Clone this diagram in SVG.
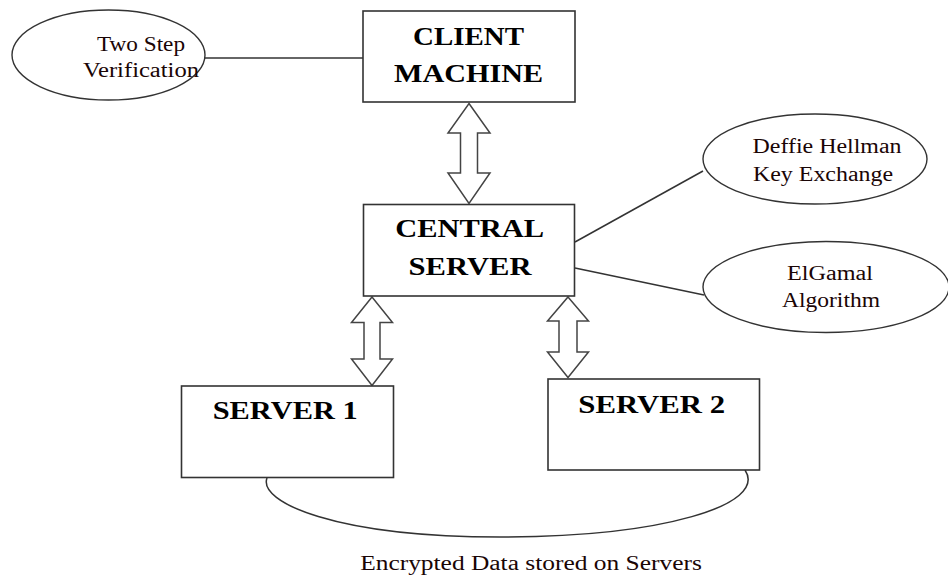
<svg xmlns="http://www.w3.org/2000/svg" width="948" height="576" viewBox="0 0 948 576">
  <style>
    .box { fill: #fff; stroke: #333; stroke-width: 1.6; }
    .oval { fill: #fff; stroke: #333; stroke-width: 1.4; }
    .link { fill: none; stroke: #333; stroke-width: 1.5; }
    .dbl { fill: #fff; stroke: #444; stroke-width: 1.5; stroke-linejoin: miter; }
    .title { font-family: 'Liberation Serif', 'DejaVu Serif', 'Times New Roman', serif; font-weight: bold; font-size: 26px; fill: #000; text-anchor: middle; }
    .label { font-family: 'Liberation Serif', 'DejaVu Serif', 'Times New Roman', serif; font-size: 20px; fill: #1a0505; text-anchor: middle; }
  </style>

  <rect width="948" height="576" fill="#fff"/>

  <!-- connectors -->
  <g id="connectors">
    <line class="link" x1="205" y1="58" x2="363" y2="58"/>
    <line class="link" x1="575" y1="242" x2="703" y2="171"/>
    <line class="link" x1="575" y1="268" x2="704" y2="295"/>
    <!-- client <-> central -->
    <polygon class="dbl" points="469,103.5 490,133 477.5,133 477.5,173 490,173 469,203.5 448,173 460.5,173 460.5,133 448,133"/>
    <!-- central <-> server 1 -->
    <polygon class="dbl" points="372,297 392.5,322.5 380,322.5 380,359 392.5,359 372,385.5 351.5,359 364,359 364,322.5 351.5,322.5"/>
    <!-- central <-> server 2 -->
    <polygon class="dbl" points="568,297 588.5,321 577,321 577,352 588.5,352 568,377.5 547.5,352 559,352 559,321 547.5,321"/>
    <!-- shared storage link between servers -->
    <path class="link" d="M267,478 C258,502 335,537 500,537 C662,537 768,505 745,470"/>
  </g>

  <g id="two-step">
    <ellipse class="oval" cx="108.5" cy="55" rx="96.5" ry="45"/>
    <text class="label" font-family="Liberation Serif, serif" x="141" y="50.5" textLength="88" lengthAdjust="spacingAndGlyphs">Two Step</text>
    <text class="label" font-family="Liberation Serif, serif" x="141" y="77" textLength="116" lengthAdjust="spacingAndGlyphs">Verification</text>
  </g>

  <g id="client-machine">
    <rect class="box" x="363" y="11" width="212" height="91"/>
    <text class="title" x="468.5" y="44.5" textLength="111" lengthAdjust="spacingAndGlyphs">CLIENT</text>
    <text class="title" x="468.5" y="81.5" textLength="149" lengthAdjust="spacingAndGlyphs">MACHINE</text>
  </g>

  <g id="central-server">
    <rect class="box" x="363.5" y="204.5" width="211" height="91.5"/>
    <text class="title" x="469.7" y="237.3" textLength="149" lengthAdjust="spacingAndGlyphs">CENTRAL</text>
    <text class="title" x="470" y="275" textLength="123" lengthAdjust="spacingAndGlyphs">SERVER</text>
  </g>

  <g id="diffie-hellman">
    <ellipse class="oval" cx="815" cy="159" rx="112" ry="45"/>
    <text class="label" x="827" y="153" textLength="149" lengthAdjust="spacingAndGlyphs">Deffie Hellman</text>
    <text class="label" x="823" y="181" textLength="140" lengthAdjust="spacingAndGlyphs">Key Exchange</text>
  </g>

  <g id="elgamal">
    <ellipse class="oval" cx="826" cy="287" rx="123" ry="45.5"/>
    <text class="label" x="830" y="280" textLength="86" lengthAdjust="spacingAndGlyphs">ElGamal</text>
    <text class="label" x="831" y="307" textLength="98" lengthAdjust="spacingAndGlyphs">Algorithm</text>
  </g>

  <g id="server-1">
    <rect class="box" x="181.5" y="386" width="212" height="91.5"/>
    <text class="title" x="285.2" y="419.3" textLength="145" lengthAdjust="spacingAndGlyphs">SERVER 1</text>
  </g>

  <g id="server-2">
    <rect class="box" x="548" y="379" width="211.5" height="91"/>
    <text class="title" x="651.7" y="412.7" textLength="146.7" lengthAdjust="spacingAndGlyphs">SERVER 2</text>
  </g>

  <g id="caption">
    <text class="label" x="531" y="570" textLength="341.7" lengthAdjust="spacingAndGlyphs">Encrypted Data stored on Servers</text>
  </g>
</svg>
